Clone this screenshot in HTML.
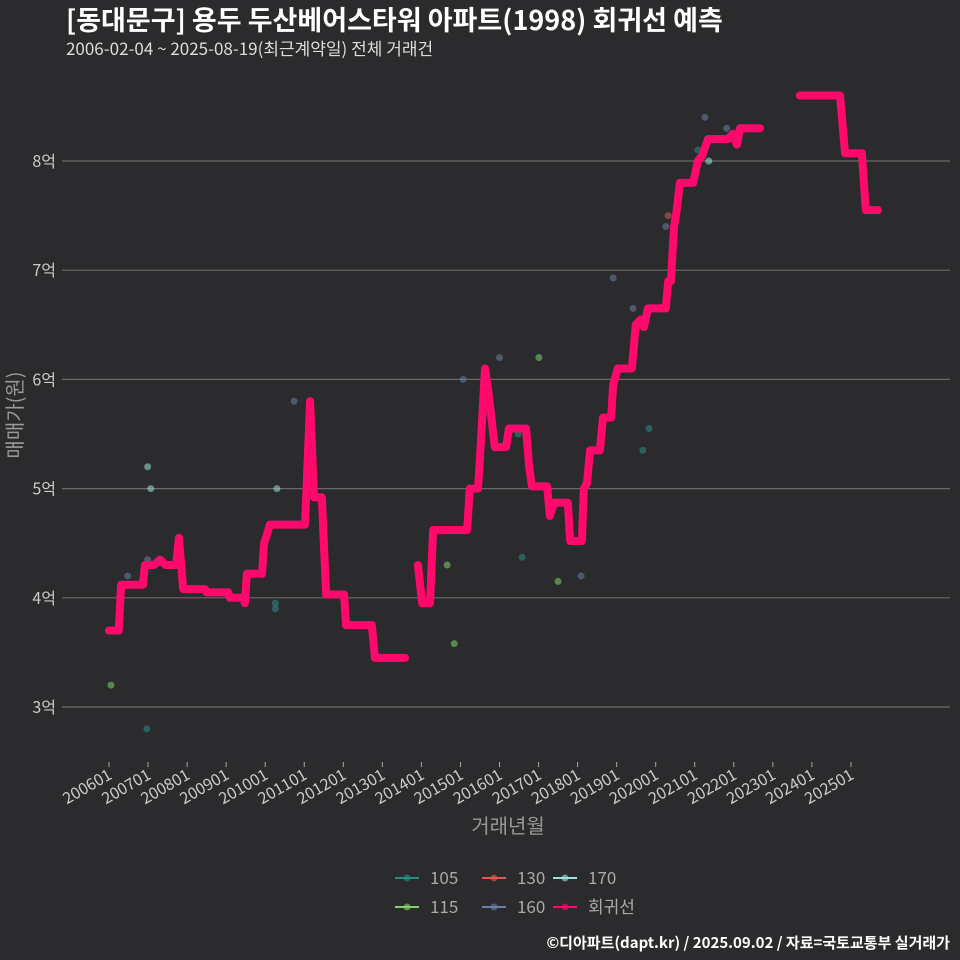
<!DOCTYPE html>
<html><head><meta charset="utf-8"><style>
body{margin:0;background:#2b2a2c;}
svg{display:block;font-family:"Noto Sans CJK KR","Liberation Sans",sans-serif;}
</style></head><body>
<svg id="c" width="960" height="960">
<rect width="960" height="960" fill="#2b2a2c"/>
<text x="66" y="30" fill="#fff" font-size="27" font-weight="bold">[동대문구] 용두 두산베어스타워 아파트(1998) 회귀선 예측</text>
<text x="66" y="55" fill="#ddd" font-size="17">2006-02-04 ~ 2025-08-19(최근계약일) 전체 거래건</text>
<g id="grid"></g><g id="pts"></g><g id="line"></g><g id="xax"></g>
<text x="508" y="833" fill="#999" font-size="20" text-anchor="middle">거래년월</text>
<text transform="translate(22,415) rotate(-90)" fill="#999" font-size="20" text-anchor="middle">매매가(원)</text>
<g id="legend"></g>
<text x="950" y="948" fill="#fff" font-size="15" font-weight="bold" text-anchor="end">©디아파트(dapt.kr) / 2025.09.02 / 자료=국토교통부 실거래가</text>
</svg>
<script>
const yTicks=[3,4,5,6,7,8];
const xTickYears=[2006,2007,2008,2009,2010,2011,2012,2013,2014,2015,2016,2017,2018,2019,2020,2021,2022,2023,2024,2025];
const lineSeg1=[[0,3.7],[0.25,3.7],[0.31,4.12],[0.87,4.12],[0.92,4.3],[1.15,4.3],[1.31,4.35],[1.45,4.3],[1.72,4.3],[1.79,4.55],[1.9,4.08],[2.46,4.08],[2.5,4.05],[3.05,4.05],[3.1,4.0],[3.43,4.0],[3.48,3.95],[3.53,4.22],[3.92,4.22],[3.97,4.5],[4.02,4.55],[4.12,4.67],[5.02,4.67],[5.15,5.8],[5.25,4.92],[5.45,4.92],[5.56,4.03],[6.02,4.03],[6.07,3.75],[6.73,3.75],[6.81,3.45],[7.58,3.45]];
const lineSeg2=[[7.91,4.3],[8.02,3.95],[8.22,3.95],[8.3,4.62],[9.17,4.62],[9.24,5.0],[9.45,5.0],[9.5,5.28],[9.63,6.1],[9.71,5.9],[9.88,5.38],[10.17,5.38],[10.24,5.55],[10.68,5.55],[10.76,5.2],[10.83,5.02],[11.22,5.02],[11.29,4.75],[11.4,4.87],[11.75,4.87],[11.81,4.52],[12.11,4.52],[12.16,5.0],[12.24,5.05],[12.32,5.35],[12.57,5.35],[12.65,5.65],[12.86,5.65],[12.91,5.95],[13.03,6.1],[13.39,6.1],[13.49,6.5],[13.62,6.55],[13.7,6.48],[13.8,6.65],[14.26,6.65],[14.32,6.9],[14.39,6.9],[14.47,7.4],[14.52,7.5],[14.62,7.8],[14.96,7.8],[15.08,8.0],[15.19,8.05],[15.34,8.2],[15.85,8.2],[15.98,8.25],[16.08,8.15],[16.16,8.3],[16.67,8.3]];
const lineSeg3=[[17.69,8.6],[18.72,8.6],[18.85,8.07],[19.28,8.07],[19.38,7.55],[19.69,7.55]];
const ptT=[0.05,0.48,0.97,0.99,1.07,0.99,4.26,4.26,4.3,4.74,8.66,8.84,9.07,10.0,10.48,10.58,11.01,11.5,12.09,12.91,13.42,13.67,13.83,14.26,14.32,15.08,15.26,15.36,15.82];
const ptV=[3.2,4.2,2.8,5.2,5.0,4.35,3.95,3.9,5.0,5.8,4.3,3.58,6.0,6.2,5.5,4.37,6.2,4.15,4.2,6.93,6.65,5.35,5.55,7.4,7.5,8.1,8.4,8.0,8.3];
const ptType=["115","160","105","170","170","160","105","105","170","160","115","115","160","160","105","105","115","115","160","160","160","105","105","160","130","105","160","170","160"];
const colors={"105":"#2a8c86","115":"#7ed46a","130":"#e05a50","160":"#6a80a8","170":"#9fe0dc","회귀선":"#ff0a6c"};
const x=t=>109+t*39.05, y=v=>707-(v-3)*109.2;
const NS="http://www.w3.org/2000/svg";
function mk(tag,attrs,parent,txt){const e=document.createElementNS(NS,tag);for(const k in attrs)e.setAttribute(k,attrs[k]);if(txt!==undefined)e.textContent=txt;document.getElementById(parent).appendChild(e);return e;}
yTicks.forEach(v=>{
 const l=mk('line',{x1:62,x2:950,y1:y(v),y2:y(v),stroke:'#6a6a6a','stroke-width':1.2},'grid');
 
 
 const t=mk('text',{x:56,y:y(v)+6,fill:'#ccc','font-size':16,'text-anchor':'end'},'grid',v+'억');
 
 
});
xTickYears.forEach(yr=>{
 const xx=x(yr-2006);
 const l=mk('line',{x1:xx,x2:xx,y1:762,y2:767,stroke:'#aaa'},'xax');
 
 
 const t=mk('text',{transform:`translate(${xx+4},${778}) rotate(-30)`,fill:'#ccc','font-size':16,'text-anchor':'end'},'xax',yr+'01');
 
 
});
ptT.forEach((t,i)=>{
 const c=mk('circle',{cx:x(t),cy:y(ptV[i]),r:3.5,fill:colors[ptType[i]],opacity:0.55},'pts');
 
 
});
[lineSeg1,lineSeg2,lineSeg3].forEach(seg=>{
 const p=mk('polyline',{points:seg.map(d=>x(d[0])+','+y(d[1])).join(' '),fill:'none',stroke:'#ff0a6c','stroke-width':8,'stroke-linejoin':'round','stroke-linecap':'round'},'line');
 
 
});
const leg=[["105",395,878],["130",482,878],["170",553,878],["115",395,907],["160",482,907],["회귀선",553,907]];
leg.forEach(([k,lx,ly])=>{
 const g=document.createElementNS(NS,'g');
 document.getElementById('legend').appendChild(g);
 
 
 const l=document.createElementNS(NS,'line');
 [['x1',lx],['x2',lx+24],['y1',ly],['y2',ly],['stroke',colors[k]],['stroke-width',2]].forEach(a=>l.setAttribute(a[0],a[1]));g.appendChild(l);
 const c=document.createElementNS(NS,'circle');
 [['cx',lx+12],['cy',ly],['r',3.5],['fill',colors[k]],['opacity',0.6]].forEach(a=>c.setAttribute(a[0],a[1]));g.appendChild(c);
 const t=document.createElementNS(NS,'text');
 [['x',lx+35],['y',ly+6],['fill','#aaa'],['font-size',17]].forEach(a=>t.setAttribute(a[0],a[1]));t.textContent=k;g.appendChild(t);
});
</script>
</body></html>
